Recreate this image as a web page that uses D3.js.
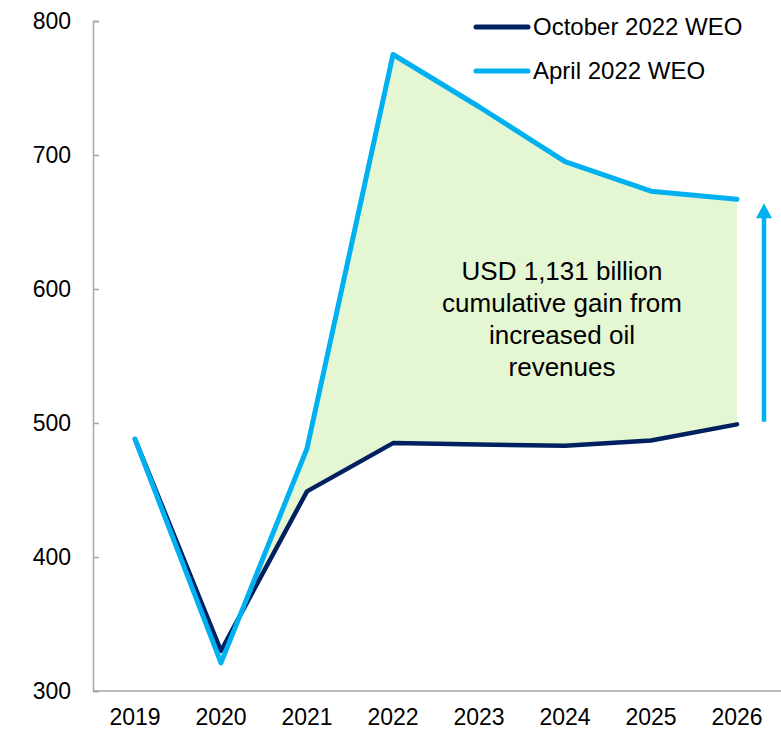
<!DOCTYPE html>
<html>
<head>
<meta charset="utf-8">
<script src="https://cdn.jsdelivr.net/npm/d3@7"></script>
<style>
  body { margin: 0; background: #fff; }
  svg { display: block; font-family: "Liberation Sans", Arial, sans-serif; }
</style>
</head>
<body>
<div id="chart"></div>
<script>
// data
const years = ["2019", "2020", "2021", "2022", "2023", "2024", "2025", "2026"];
const october2022 = [488, 330, 449, 485, 484, 483, 487, 499];
const april2022 = [488, 321, 481, 775, 736, 695, 673, 667];
const yTicks = [300, 400, 500, 600, 700, 800];
const seriesNames = ["October 2022 WEO", "April 2022 WEO"];
const noteLines = ["USD 1,131 billion", "cumulative gain from", "increased oil", "revenues"];
const arrowRange = [501, 664];

const darkBlue = "#002060";
const lightBlue = "#00b0f0";
const fillGreen = "#e4f6d2";
const axisGrey = "#a6a6a6";

const outerWidth = 781;
const outerHeight = 731;

const svg = d3.select("#chart").append("svg")
  .attr("width", outerWidth)
  .attr("height", outerHeight);

const x = d3.scaleBand()
  .domain(years)
  .range([92, 780]);

const y = d3.scaleLinear()
  .domain([300, 800])
  .range([691, 21]);

const cx = d => x(d) + x.bandwidth() / 2;

// shaded gain between the two vintages (from 2020 on)
const areaData = years.map((yr, i) => ({ yr, lo: october2022[i], hi: april2022[i] })).slice(1);
svg.append("path")
  .datum(areaData)
  .attr("fill", fillGreen)
  .attr("d", d3.area()
    .x(d => cx(d.yr))
    .y0(d => y(d.lo))
    .y1(d => y(d.hi)));

// axes
const yAxis = d3.axisRight(y).tickValues(yTicks).tickSize(6).tickFormat(d3.format("d"));
const gy = svg.append("g")
  .attr("transform", "translate(93,0)")
  .call(yAxis);
gy.select(".domain").attr("stroke", axisGrey).attr("stroke-width", 1.5);
gy.selectAll(".tick line").attr("stroke", axisGrey).attr("stroke-width", 1.5);
gy.selectAll(".tick text")
  .attr("x", -22)
  .attr("text-anchor", "end")
  .attr("fill", "#000")
  .style("font-size", "23px");

const xAxis = d3.axisBottom(x).tickSize(0).tickPadding(18);
const gx = svg.append("g")
  .attr("transform", "translate(0,691)")
  .call(xAxis);
gx.select(".domain").attr("d", "M93,0H781").attr("stroke", axisGrey).attr("stroke-width", 1.5);
gx.selectAll(".tick text")
  .attr("fill", "#000")
  .style("font-size", "23px");

// lines
const line = d3.line()
  .x((d, i) => cx(years[i]))
  .y(d => y(d));

svg.append("path")
  .datum(october2022)
  .attr("fill", "none")
  .attr("stroke", darkBlue)
  .attr("stroke-width", 4.5)
  .attr("stroke-linejoin", "round")
  .attr("stroke-linecap", "round")
  .attr("d", line);

svg.append("path")
  .datum(april2022)
  .attr("fill", "none")
  .attr("stroke", lightBlue)
  .attr("stroke-width", 5)
  .attr("stroke-linejoin", "round")
  .attr("stroke-linecap", "round")
  .attr("d", line);

// annotation text
const note = svg.append("text")
  .attr("text-anchor", "middle")
  .attr("fill", "#000")
  .style("font-size", "26px");
noteLines.forEach((t, i) => {
  note.append("tspan")
    .attr("x", 562)
    .attr("y", 280 + i * 32)
    .text(t);
});

// arrow
const ax = cx("2026") + 27;
svg.append("line")
  .attr("x1", ax).attr("x2", ax)
  .attr("y1", y(arrowRange[0]))
  .attr("y2", y(arrowRange[1]) + 12)
  .attr("stroke", lightBlue)
  .attr("stroke-width", 4.5);
svg.append("path")
  .attr("fill", lightBlue)
  .attr("d", `M${ax},${y(arrowRange[1])}L${ax - 8},${y(arrowRange[1]) + 15}L${ax + 8},${y(arrowRange[1]) + 15}Z`);

// legend
const legend = svg.append("g");
seriesNames.forEach((name, i) => {
  const ly = 27 + i * 44;
  legend.append("line")
    .attr("x1", 476).attr("x2", 528)
    .attr("y1", ly).attr("y2", ly)
    .attr("stroke", i === 0 ? darkBlue : lightBlue)
    .attr("stroke-width", 5)
    .attr("stroke-linecap", "round");
  legend.append("text")
    .attr("x", 533)
    .attr("y", ly)
    .attr("dy", "0.35em")
    .attr("fill", "#000")
    .style("font-size", "24px")
    .text(name);
});
</script>
</body>
</html>
